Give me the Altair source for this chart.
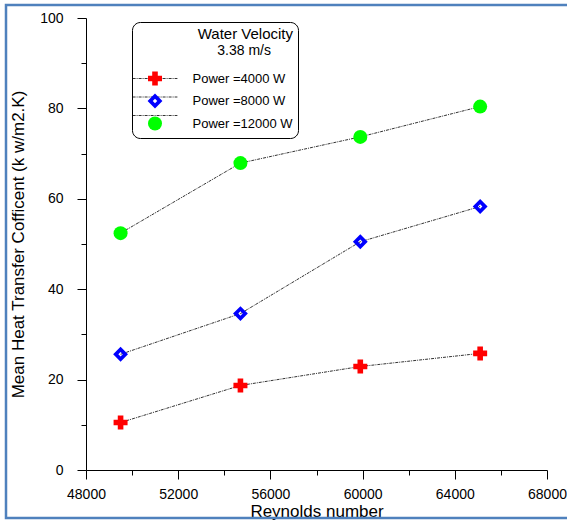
import altair as alt
import pandas as pd

# Reynolds number of each run and the mean heat transfer coefficient per heater power
reynolds = [49500, 54700, 59900, 65100]
power_4000 = [10.5, 18.7, 22.9, 25.8]
power_8000 = [25.6, 34.6, 50.5, 58.3]
power_12000 = [52.4, 67.9, 73.7, 80.4]

series_names = ["Power =4000 W", "Power =8000 W", "Power =12000 W"]
series_colors = ["#ff0000", "#0000ff", "#00ff00"]
# cross, hollow diamond (ring drawn as one path with a reversed inner loop), circle
series_shapes = [
    "cross",
    "M-1.06,0L0,-1.06L1.06,0L0,1.06Z M-0.32,0L0,0.32L0.32,0L0,-0.32Z",
    "circle",
]
legend_heading = "Water Velocity"
legend_subheading = "3.38 m/s"

x_ticks = list(range(48000, 68001, 2000))
y_ticks = list(range(0, 101, 10))

FONT = "Liberation Sans"

rows = []
for name, vals in zip(series_names, [power_4000, power_8000, power_12000]):
    for re_, v in zip(reynolds, vals):
        rows.append({"Reynolds": re_, "h": v, "Power": name, "PowerLine": "line " + name})
df = pd.DataFrame(rows)

x_enc = alt.X(
    "Reynolds:Q",
    scale=alt.Scale(domain=[48000, 68000], nice=False, zero=False),
    axis=alt.Axis(
        values=x_ticks,
        format="d",
        labelExpr="datum.value % 4000 === 0 ? datum.label : ''",
        tickSize={"condition": {"test": "datum.value % 4000 === 0", "value": 9}, "value": 5},
        grid=False,
        domainColor="black",
        tickColor="black",
        labelColor="black",
        labelFont=FONT,
        labelFontSize=14,
        labelPadding=8,
        labelFlush=False,
        labelOverlap=False,
        title="Reynolds number",
        titleFont=FONT,
        titleFontSize=17,
        titleFontWeight="normal",
        titleColor="black",
        titleY=41,
        titleBaseline="middle",
    ),
)

y_enc = alt.Y(
    "h:Q",
    scale=alt.Scale(domain=[0, 100], nice=False),
    axis=alt.Axis(
        values=y_ticks,
        labelExpr="datum.value % 20 === 0 ? datum.label : ''",
        tickSize={"condition": {"test": "datum.value % 20 === 0", "value": 9}, "value": 5},
        grid=False,
        domainColor="black",
        tickColor="black",
        labelColor="black",
        labelFont=FONT,
        labelFontSize=14,
        labelPadding=14,
        labelOverlap=False,
        title="Mean Heat Transfer Cofficent (k w/m2.K)",
        titleFont=FONT,
        titleFontSize=17,
        titleFontWeight="normal",
        titleColor="black",
        titleAngle=270,
        titleX=-68,
        titleY=226,
        titleAlign="center",
        titleBaseline="middle",
    ),
)

legend_common = dict(
    orient="none",
    legendX=46,
    padding=5,
    titleFont=FONT,
    titleFontWeight="normal",
    titleColor="black",
    titleAnchor="end",
    titleAlign="right",
    labelFont=FONT,
    labelFontSize=13,
    symbolOffset=10.5,
    rowPadding=3.5,
    symbolSize=196,
    symbolStrokeWidth=1,
)

# boxed legend with the coloured markers, their labels and the first heading line
marker_legend = alt.Legend(
    **legend_common,
    title=legend_heading,
    titleFontSize=15,
    legendY=4,
    titlePadding=29,
    labelOffset=30,
    strokeColor="black",
    cornerRadius=8,
    labelColor="black",
    symbolOpacity=1,
)

# unboxed legend at the same spot: the dashed line behind each marker and the
# second heading line, right-aligned to the end of its (label-free) entries
line_legend = alt.Legend(
    **legend_common,
    title=legend_subheading,
    titleFontSize=14,
    legendY=20.5,
    titlePadding=13.5,
    labelOffset=108,
    labelExpr="''",
    symbolType="M-3.2,0L3.2,0",
    symbolStrokeColor="#333333",
    symbolFillColor="transparent",
)

frame = alt.Chart(pd.DataFrame({"k": [0]})).mark_rect(
    fillOpacity=0, stroke="#4f81bd", strokeWidth=2.5
).encode(
    x=alt.value(-80), x2=alt.value(500), y=alt.value(-13), y2=alt.value(500)
)

lines = alt.Chart(df).mark_line(color="#333333", strokeWidth=1).encode(
    x=x_enc,
    y=y_enc,
    strokeDash=alt.StrokeDash(
        "PowerLine:N",
        scale=alt.Scale(range=[[3, 1, 1, 1]] * 3),
        legend=line_legend,
    ),
)

points = alt.Chart(df).mark_point(filled=True, opacity=1, size=196).encode(
    x=x_enc,
    y=y_enc,
    color=alt.Color(
        "Power:N",
        scale=alt.Scale(domain=series_names, range=series_colors),
        legend=marker_legend,
    ),
    shape=alt.Shape(
        "Power:N",
        scale=alt.Scale(domain=series_names, range=series_shapes),
        legend=marker_legend,
    ),
)

chart = (
    alt.layer(frame, lines, points)
    .properties(
        width=461,
        height=452,
        autosize=alt.AutoSizeParams(type="none"),
        padding={"left": 86, "top": 18, "right": 20, "bottom": 52},
        background="white",
    )
    .configure_view(stroke=None)
)

chart.save("out.html", embed_options={"renderer": "svg", "actions": False})
